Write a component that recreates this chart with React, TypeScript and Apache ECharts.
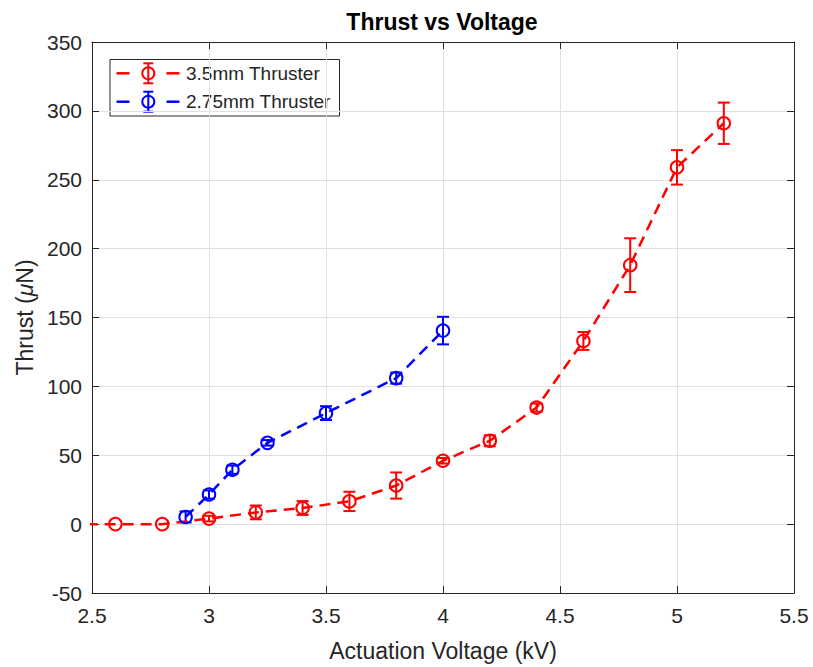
import React, { useEffect, useRef } from "react";
import * as echarts from "echarts";

const redVoltage = [2.4, 2.6, 2.8, 3.0, 3.2, 3.4, 3.6, 3.8, 4.0, 4.2, 4.4, 4.6, 4.8, 5.0, 5.2];
const redThrust = [0, 0, 0, 4, 8.5, 11.7, 16.5, 28, 46, 60.5, 84.6, 133, 188, 259, 291];
const redError = [0, 0, 0, 2, 5, 5, 7, 9.5, 2, 4, 3, 6.5, 19.5, 12.5, 15];

const blueVoltage = [2.9, 3.0, 3.1, 3.25, 3.5, 3.8, 4.0];
const blueThrust = [5.2, 21.5, 39.5, 59, 80.6, 106, 140.5];
const blueError = [4, 3, 3, 2, 5, 4, 10];

const xTicks = [2.5, 3, 3.5, 4, 4.5, 5, 5.5];
const yTicks = [-50, 0, 50, 100, 150, 200, 250, 300, 350];

const seriesNames = ["3.5mm Thruster", "2.75mm Thruster"];
const RED = "#ff0000";
const BLUE = "#0000ff";
const FONT = "'Liberation Sans', Arial, Helvetica, sans-serif";
const AXIS = "#262626";

function errorSeries(xs: number[], ys: number[], es: number[], color: string) {
  const data = xs.map((x, i) => [x, ys[i] - es[i], ys[i] + es[i]]);
  return {
    type: "custom",
    xAxisIndex: 0,
    yAxisIndex: 0,
    silent: true,
    clip: true,
    z: 3,
    data,
    renderItem: (params: any, api: any) => {
      const x = api.value(0);
      const lo = api.value(1);
      const hi = api.value(2);
      if (hi - lo <= 0) return { type: "group", children: [] };
      const p1 = api.coord([x, hi]);
      const p2 = api.coord([x, lo]);
      const hw = 6;
      const style = { stroke: color, lineWidth: 2, fill: "none" };
      return {
        type: "group",
        children: [
          { type: "line", shape: { x1: p1[0], y1: p1[1], x2: p2[0], y2: p2[1] }, style },
          { type: "line", shape: { x1: p1[0] - hw, y1: p1[1], x2: p1[0] + hw, y2: p1[1] }, style },
          { type: "line", shape: { x1: p2[0] - hw, y1: p2[1], x2: p2[0] + hw, y2: p2[1] }, style },
        ],
      };
    },
  };
}

function lineSeries(name: string, xs: number[], ys: number[], color: string) {
  return {
    name,
    type: "line",
    xAxisIndex: 0,
    yAxisIndex: 0,
    data: xs.map((x, i) => [x, ys[i]]),
    symbol: "circle",
    symbolSize: 12.5,
    showAllSymbol: true,
    clip: true,
    z: 4,
    itemStyle: { color: "rgba(0,0,0,0)", borderColor: color, borderWidth: 2 },
    lineStyle: { color, width: 2.5, type: [11, 7] },
  };
}

function legendRow(y: number, color: string, label: string) {
  const s = { stroke: color, lineWidth: 2.5 };
  const e = { stroke: color, lineWidth: 2 };
  const cx = 148.3;
  return [
    { type: "line", shape: { x1: 116.5, y1: y, x2: 129.5, y2: y }, style: s },
    { type: "line", shape: { x1: 166.5, y1: y, x2: 179.5, y2: y }, style: s },
    { type: "line", shape: { x1: cx, y1: y - 10, x2: cx, y2: y + 10 }, style: e },
    { type: "line", shape: { x1: cx - 5, y1: y - 10, x2: cx + 5, y2: y - 10 }, style: e },
    { type: "line", shape: { x1: cx - 5, y1: y + 10, x2: cx + 5, y2: y + 10 }, style: e },
    { type: "circle", shape: { cx, cy: y, r: 6 }, style: { fill: "none", stroke: color, lineWidth: 2 } },
    {
      type: "text",
      x: 186,
      y,
      style: { text: label, font: `19px ${FONT}`, fill: "#262626", textAlign: "left", textVerticalAlign: "middle" },
    },
  ];
}

export default function App() {
  const ref = useRef<HTMLDivElement>(null);
  useEffect(() => {
    if (!ref.current) return;
    const chart = echarts.init(ref.current, undefined, { renderer: "svg" });
    const xMin = xTicks[0];
    const xMax = xTicks[xTicks.length - 1];
    const yMin = yTicks[0];
    const yMax = yTicks[yTicks.length - 1];
    const baseAxis = {
      axisLine: { show: true, onZero: false, lineStyle: { color: AXIS, width: 1 } },
      axisTick: { show: true, inside: true, length: 7, lineStyle: { color: AXIS } },
    };
    chart.setOption({
      animation: false,
      backgroundColor: "#ffffff",
      grid: { left: 92, right: 19, top: 42, bottom: 68, containLabel: false },
      xAxis: [
        {
          ...baseAxis,
          type: "value",
          position: "bottom",
          min: xMin,
          max: xMax,
          interval: 0.5,
          axisLabel: { color: AXIS, fontSize: 21, fontFamily: FONT, margin: 12 },
          splitLine: { show: true, lineStyle: { color: "#e0e0e0", width: 1 } },
          name: "Actuation Voltage (kV)",
          nameLocation: "middle",
          nameGap: 46,
          nameTextStyle: { color: AXIS, fontSize: 23, fontFamily: FONT },
        },
        {
          ...baseAxis,
          type: "value",
          position: "top",
          min: xMin,
          max: xMax,
          interval: 0.5,
          axisLabel: { show: false },
          splitLine: { show: false },
        },
      ],
      yAxis: [
        {
          ...baseAxis,
          type: "value",
          position: "left",
          min: yMin,
          max: yMax,
          interval: 50,
          axisLabel: { color: AXIS, fontSize: 21, fontFamily: FONT, margin: 10 },
          splitLine: { show: true, lineStyle: { color: "#e0e0e0", width: 1 } },
          name: "Thrust ({mu|μ}N)",
          nameLocation: "middle",
          nameGap: 56,
          nameTextStyle: {
            color: AXIS,
            fontSize: 23,
            fontFamily: FONT,
            rich: { mu: { fontStyle: "italic", fontSize: 23, fontFamily: FONT, color: AXIS } },
          },
        },
        {
          ...baseAxis,
          type: "value",
          position: "right",
          min: yMin,
          max: yMax,
          interval: 50,
          axisLabel: { show: false },
          splitLine: { show: false },
        },
      ],
      series: [
        lineSeries(seriesNames[0], redVoltage, redThrust, RED),
        errorSeries(redVoltage, redThrust, redError, RED),
        lineSeries(seriesNames[1], blueVoltage, blueThrust, BLUE),
        errorSeries(blueVoltage, blueThrust, blueError, BLUE),
      ],
      graphic: [
        {
          type: "text",
          x: 442,
          y: 22,
          style: {
            text: "Thrust vs Voltage",
            font: `bold 23px ${FONT}`,
            fill: "#000000",
            textAlign: "center",
            textVerticalAlign: "middle",
          },
        },
        {
          type: "group",
          z: 100,
          children: [
            {
              type: "rect",
              shape: { x: 110, y: 59.5, width: 229.5, height: 56.5 },
              style: { fill: "#ffffff", stroke: AXIS, lineWidth: 1 },
            },
            ...legendRow(73.3, RED, seriesNames[0]),
            ...legendRow(101.7, BLUE, seriesNames[1]),
          ],
        },
      ],
    });
    return () => chart.dispose();
  }, []);
  return (
    <div
      ref={ref}
      style={{ position: "fixed", left: 0, top: 0, width: 813, height: 667, background: "#fff" }}
    />
  );
}
